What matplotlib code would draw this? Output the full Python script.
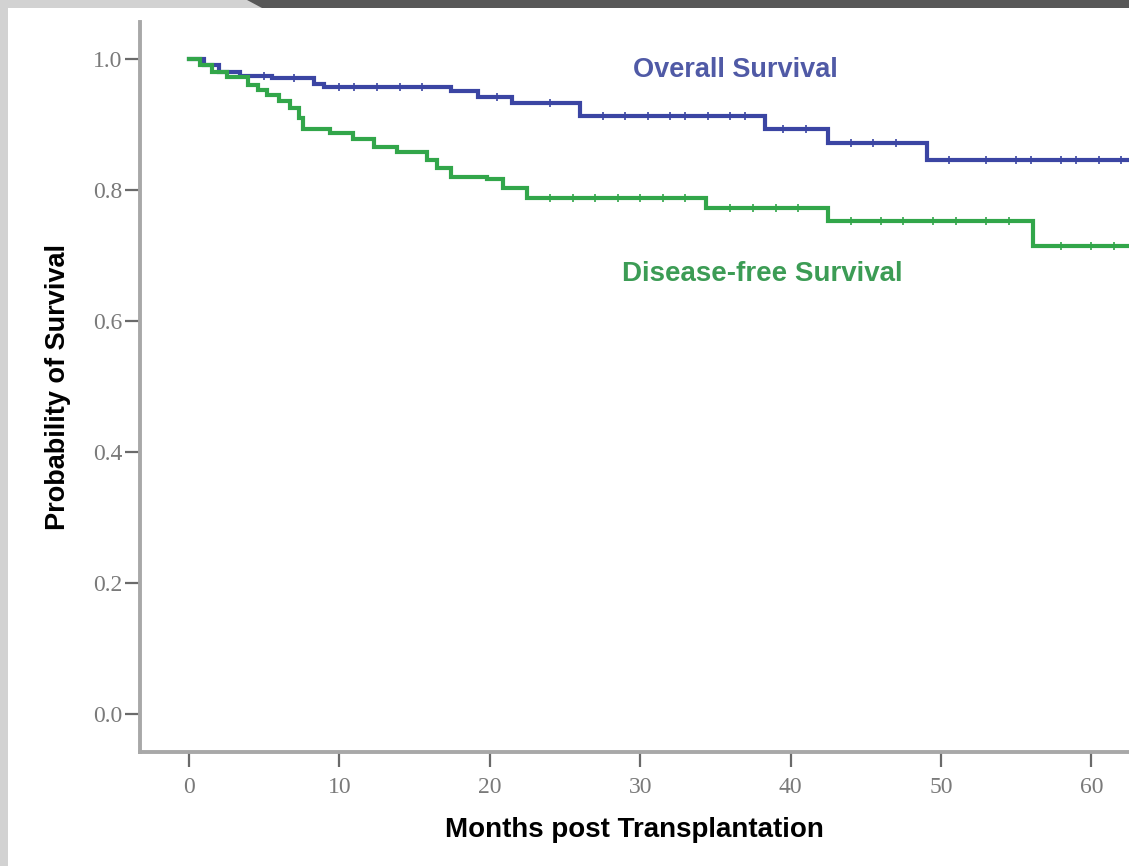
import matplotlib
matplotlib.use("Agg")
import matplotlib.pyplot as plt
from matplotlib.patches import Polygon, Rectangle

# Kaplan-Meier step estimates (months, survival probability)
os_months = [0, 1.0, 2.0, 3.4, 5.5, 8.3, 9.0, 17.4, 19.2, 21.5, 26.0, 38.3, 42.5, 49.1]
os_surv = [1.0, 0.99, 0.98, 0.973, 0.97, 0.962, 0.957, 0.95, 0.942, 0.932, 0.912, 0.893, 0.871, 0.846]

dfs_months = [0, 0.7, 1.5, 2.5, 3.9, 4.6, 5.2, 6.0, 6.7, 7.3, 7.6, 9.4, 10.9, 12.3,
              13.8, 15.8, 16.5, 17.4, 19.8, 20.9, 22.5, 34.4, 42.5, 56.1]
dfs_surv = [1.0, 0.99, 0.98, 0.972, 0.96, 0.952, 0.945, 0.935, 0.924, 0.91, 0.892, 0.886, 0.877, 0.866,
            0.858, 0.846, 0.833, 0.82, 0.817, 0.802, 0.787, 0.772, 0.753, 0.714]

follow_up_end = 63

# censored observations (tick marks on the curves)
os_censored = [5, 7, 10, 11, 12.5, 14, 15.5, 20.5, 24, 27.5, 29, 30.5, 32, 33, 34.5, 36, 37,
               39.5, 41, 44, 45.5, 47, 50.5, 53, 55, 56, 58, 59, 60.5, 62]
dfs_censored = [24, 25.5, 27, 28.5, 30, 31.5, 33, 36, 37.5, 39, 40.5, 44, 46, 47.5, 49.5,
                51, 53, 54.5, 58, 60, 61.5]

x_ticks = [0, 10, 20, 30, 40, 50, 60]
y_ticks = [0.0, 0.2, 0.4, 0.6, 0.8, 1.0]

blue = "#3b45a3"
green = "#32a64a"


def survival_at(times, surv, t):
    value = surv[0]
    for ti, si in zip(times, surv):
        if ti <= t:
            value = si
    return value


fig = plt.figure(figsize=(11.29, 8.66), dpi=100)
fig.patch.set_facecolor("white")

# framing: light gray border on left/top, dark tab at the top right
fig.patches.append(Rectangle((0, 0), 8 / 1129, 1, transform=fig.transFigure,
                             facecolor="#d2d2d2", edgecolor="none", zorder=0))
fig.patches.append(Rectangle((0, 1 - 8 / 866), 1, 8 / 866, transform=fig.transFigure,
                             facecolor="#d2d2d2", edgecolor="none", zorder=0))
fig.patches.append(Polygon([(247 / 1129, 1), (1, 1), (1, 1 - 8 / 866), (262 / 1129, 1 - 8 / 866)],
                           closed=True, transform=fig.transFigure,
                           facecolor="#585858", edgecolor="none", zorder=1))

ax = fig.add_axes([140 / 1129, 114 / 866, 1 - 140 / 1129, 730 / 866])
ax.set_facecolor("none")

ax.step(os_months + [follow_up_end], os_surv + [os_surv[-1]], where="post",
        color=blue, lw=3.0, solid_joinstyle="miter")
ax.step(dfs_months + [follow_up_end], dfs_surv + [dfs_surv[-1]], where="post",
        color=green, lw=3.0, solid_joinstyle="miter")

ax.plot(os_censored, [survival_at(os_months, os_surv, t) for t in os_censored],
        ls="none", marker="|", ms=6, mew=1.2, color=blue)
ax.plot(dfs_censored, [survival_at(dfs_months, dfs_surv, t) for t in dfs_censored],
        ls="none", marker="|", ms=6, mew=1.2, color=green)

ax.text(36.3, 0.983, "Overall Survival", color="#505aa6", fontsize=19.5,
        fontweight="bold", family="Liberation Sans", ha="center", va="center")
ax.text(38.1, 0.671, "Disease-free Survival", color="#3c9c55", fontsize=20,
        fontweight="bold", family="Liberation Sans", ha="center", va="center")

ax.set_xlim(-3.26, 62.5)
ax.set_ylim(-0.058, 1.056)
ax.set_xticks(x_ticks)
ax.set_yticks(y_ticks)
ax.set_xticklabels([str(t) for t in x_ticks])
ax.set_yticklabels([f"{t:.1f}" for t in y_ticks])

for side in ["top", "right"]:
    ax.spines[side].set_visible(False)
for side in ["left", "bottom"]:
    ax.spines[side].set_color("#a8a8a8")
    ax.spines[side].set_linewidth(2.8)

ax.tick_params(axis="both", direction="out", length=11, width=1.6, color="#6a6a6a",
               labelcolor="#7a7a7a", labelsize=17, pad=1.5)
ax.tick_params(axis="x", pad=7)
for lab in ax.get_xticklabels() + ax.get_yticklabels():
    lab.set_family("Liberation Serif")

ax.set_xlabel("Months post Transplantation", fontsize=20, fontweight="bold",
              family="Liberation Sans", labelpad=14)
ax.set_ylabel("Probability of Survival", fontsize=19.5, fontweight="bold",
              family="Liberation Sans", labelpad=16)

fig.savefig("out.png", dpi=100)
